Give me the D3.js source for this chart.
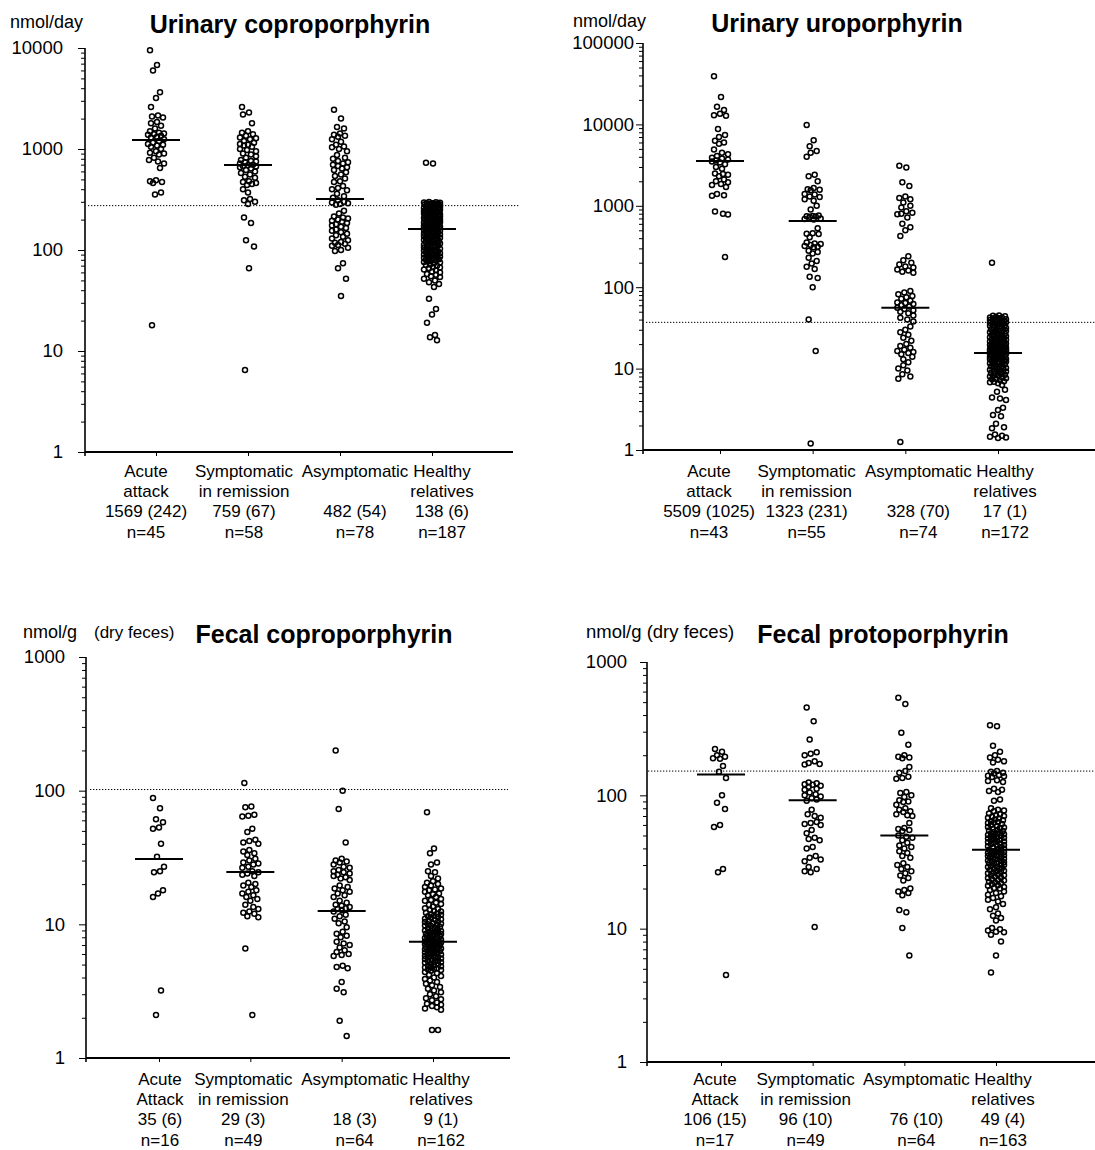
<!DOCTYPE html>
<html>
<head>
<meta charset="utf-8">
<script src="https://cdn.jsdelivr.net/npm/d3@7"></script>
<style>
  body { margin: 0; background: #fff; }
  svg { display: block; background: #fff; }
</style>
</head>
<body>
<svg id="chart" width="1095" height="1150"></svg>
<script>
// ---- Category labels ----
const urineCategories = [['Acute', 'attack'], ['Symptomatic', 'in remission'], ['Asymptomatic', ''], ['Healthy', 'relatives']];
const fecalCategories = [['Acute', 'Attack'], ['Symptomatic', 'in remission'], ['Asymptomatic', ''], ['Healthy', 'relatives']];

// ---- Urinary coproporphyrin (nmol/day) ----
const ucoproTicks = [1, 10, 100, 1000, 10000];
const ucoproStats = ['1569 (242)', '759 (67)', '482 (54)', '138 (6)'];
const ucoproN = [45, 58, 78, 187];
const ucoproMedians = [1230, 695, 320, 161];
const ucoproRef = 275;
const ucoproAcute = [9500, 6800, 6000, 3650, 3200, 2600, 2150, 2100, 2050, 1850, 1800, 1700, 1600, 1500, 1450, 1420, 1400, 1380, 1350, 1320, 1300, 1250, 1200, 1150, 1120, 1100, 1080, 1050, 1000, 950, 920, 900, 880, 820, 780, 750, 720, 650, 490, 480, 470, 460, 370, 355, 18];
const ucoproRemission = [2600, 2300, 2200, 1800, 1500, 1450, 1400, 1350, 1300, 1280, 1250, 1200, 1150, 1120, 1100, 1080, 1050, 1000, 980, 950, 900, 880, 850, 820, 780, 760, 750, 740, 720, 700, 690, 680, 670, 660, 640, 620, 600, 580, 560, 530, 520, 480, 470, 460, 450, 440, 400, 370, 320, 310, 300, 285, 210, 185, 125, 108, 66, 6.5];
const ucoproAsymptomatic = [2450, 2000, 1650, 1600, 1420, 1380, 1350, 1320, 1250, 1180, 1100, 1060, 1040, 1000, 950, 870, 820, 800, 760, 740, 720, 700, 680, 660, 640, 620, 590, 560, 540, 510, 480, 470, 430, 410, 400, 390, 360, 340, 330, 310, 300, 295, 290, 285, 280, 245, 230, 215, 210, 205, 200, 195, 190, 185, 180, 175, 170, 165, 160, 155, 150, 145, 140, 135, 130, 125, 120, 118, 115, 112, 110, 105, 100, 98, 74, 66, 52, 35];
const ucoproHealthy = [730, 720, 298, 297, 295, 293, 291, 290, 289, 288, 286, 284, 283, 281, 279, 277, 276, 274, 272, 270, 268, 267, 265, 262, 260, 258, 256, 254, 253, 250, 248, 247, 245, 243, 242, 240, 238, 236, 234, 233, 231, 230, 228, 226, 225, 223, 221, 220, 218, 216, 215, 214, 213, 211, 210, 208, 206, 205, 203, 201, 200, 198, 196, 195, 194, 191, 190, 189, 187, 186, 185, 183, 181, 180, 179, 177, 176, 175, 173, 172, 171, 170, 169, 168, 167, 166, 165, 164, 163, 162, 161, 160, 158, 157, 155, 153, 152, 150, 149, 147, 146, 144, 142, 141, 140, 138, 137, 135, 134, 132, 131, 130, 128, 127, 126, 124, 123, 121, 120, 119, 117, 116, 115, 113, 112, 111, 110, 108, 107, 106, 105, 103, 102, 101, 100, 99, 98, 97, 96, 95, 94, 93, 92, 91, 90, 89, 88, 87, 86, 85, 84, 83, 82, 81, 80, 79, 78, 77, 76, 75, 74, 72, 71, 70, 68, 67, 66, 64, 63, 61, 60, 58, 57, 55, 54, 52, 50, 48, 46, 43, 33, 26, 23, 19, 14.4, 13.7, 12.8];

// ---- Urinary uroporphyrin (nmol/day) ----
const uuroTicks = [1, 10, 100, 1000, 10000, 100000];
const uuroStats = ['5509 (1025)', '1323 (231)', '328 (70)', '17 (1)'];
const uuroN = [43, 55, 74, 172];
const uuroMedians = [3550, 650, 56, 15.5];
const uuroRef = 37;
const uuroAcute = [39000, 21700, 16500, 15000, 13500, 13000, 12800, 8800, 7400, 7000, 6300, 6000, 5800, 4900, 4500, 4300, 4100, 3900, 3800, 3700, 3600, 3500, 3400, 3250, 3000, 2850, 2500, 2450, 2400, 2300, 2100, 2000, 1950, 1850, 1800, 1700, 1400, 1350, 1330, 850, 800, 780, 235];
const uuroRemission = [9800, 6400, 5400, 4700, 4500, 4000, 2400, 2300, 2000, 1650, 1600, 1580, 1550, 1400, 1380, 1300, 1280, 1200, 1150, 1000, 900, 760, 750, 745, 740, 735, 700, 690, 680, 530, 460, 455, 450, 410, 355, 345, 340, 330, 320, 315, 310, 280, 270, 260, 230, 210, 195, 178, 167, 134, 130, 100, 40, 16.5, 1.2];
const uuroAsymptomatic = [3100, 2950, 1950, 1750, 1300, 1250, 1200, 1100, 1000, 950, 860, 820, 800, 790, 720, 600, 545, 500, 425, 240, 215, 200, 190, 180, 175, 165, 160, 155, 150, 90, 86, 82, 78, 75, 72, 68, 65, 64, 62, 60, 58, 56, 54, 52, 50, 48, 45, 42, 40, 38, 33, 30, 28, 26, 24, 22, 20, 19, 18, 17, 16.5, 16, 15.5, 15, 14, 13, 12, 11, 10, 9.5, 8.5, 8, 7.5, 1.25];
const uuroHealthy = [200, 45, 44.5, 44, 43, 42.5, 42, 41.5, 41, 40.5, 40, 39.5, 39, 38.5, 38, 37.5, 37, 36.5, 36, 35.5, 35, 34.5, 34, 33.5, 33, 32.5, 32, 31.5, 31, 30.5, 30, 29.5, 29, 28.5, 28.2, 28, 27.5, 27, 26.8, 26.5, 26, 25.5, 25.2, 25, 24.6, 24.2, 24, 23.8, 23.4, 23, 22.8, 22.6, 22.2, 21.8, 21.6, 21.4, 21, 20.7, 20.5, 20.4, 20.1, 19.8, 19.7, 19.5, 19.3, 19.2, 19, 18.9, 18.8, 18.6, 18.5, 18.4, 18.2, 18, 17.9, 17.8, 17.6, 17.4, 17.3, 17.2, 17, 16.9, 16.8, 16.7, 16.7, 16.6, 16.5, 16.4, 16.3, 16.2, 16.1, 16, 15.9, 15.8, 15.6, 15.4, 15.2, 15.1, 15, 14.8, 14.6, 14.4, 14.2, 14.1, 14, 13.9, 13.8, 13.6, 13.4, 13.2, 13.1, 13, 12.9, 12.8, 12.6, 12.4, 12.3, 12.2, 12, 11.8, 11.6, 11.5, 11.4, 11.2, 11, 10.8, 10.6, 10.5, 10.4, 10.2, 10, 9.8, 9.7, 9.6, 9.4, 9.2, 9.1, 9, 8.8, 8.7, 8.6, 8.4, 8.2, 8.1, 8, 7.8, 7.6, 7.5, 7.4, 7.2, 7, 6.9, 6.8, 6.6, 6.3, 5.5, 5.2, 4.4, 4.3, 4.1, 3.3, 3.1, 2.7, 2.6, 2.1, 1.9, 1.85, 1.55, 1.5, 1.45, 1.42, 1.4];

// ---- Fecal coproporphyrin (nmol/g dry feces) ----
const fcoproTicks = [1, 10, 100, 1000];
const fcoproStats = ['35 (6)', '29 (3)', '18 (3)', '9 (1)'];
const fcoproN = [16, 49, 64, 162];
const fcoproMedians = [30.8, 24.6, 12.6, 7.4];
const fcoproRef = 102;
const fcoproAcute = [88, 74, 61, 58, 53, 52, 40, 32, 27, 25, 24.5, 18, 17, 16, 3.2, 2.1];
const fcoproRemission = [114, 76, 75, 66, 65, 64, 52, 49, 43, 42, 41, 40, 36, 35, 34, 33, 31, 30, 29, 28.5, 28, 27, 26.5, 25, 24.5, 24, 23.5, 23, 20.5, 20, 19.5, 19, 18, 17.5, 17, 16.5, 16, 15.5, 15, 14, 13.5, 13, 12.5, 12.2, 12, 11.5, 11.3, 6.6, 2.1];
const fcoproAsymptomatic = [200, 100, 73, 41, 31, 30, 29.5, 29, 28, 27, 26.5, 25.5, 25, 24.5, 24, 23.5, 23, 22.5, 22, 21.5, 19.5, 19, 18.5, 18, 17.5, 17, 16.5, 16, 15, 14.5, 14, 13.8, 13.5, 13.2, 13, 12.8, 12.5, 11.8, 11.5, 11, 10.5, 10.2, 9.5, 8.8, 8.5, 8.2, 8, 7.4, 7.2, 7, 6.7, 6.4, 6.2, 6, 5.9, 5.8, 4.9, 4.8, 4.7, 3.7, 3.3, 3.1, 1.9, 1.46];
const fcoproHealthy = [69, 37, 34, 29, 28, 25, 24.5, 23, 22, 21, 20.5, 20, 19.5, 19, 18.5, 18.2, 18, 17.5, 17, 16.8, 16.5, 16, 15.5, 15.2, 15, 14.5, 14.2, 14, 13.6, 13.2, 13, 12.8, 12.6, 12.5, 12.2, 12, 11.9, 11.8, 11.6, 11.5, 11.4, 11.2, 11, 10.9, 10.8, 10.6, 10.5, 10.4, 10.2, 10.1, 10, 9.9, 9.8, 9.7, 9.6, 9.4, 9.3, 9.2, 9.1, 9, 8.9, 8.8, 8.75, 8.7, 8.6, 8.5, 8.45, 8.4, 8.3, 8.2, 8.15, 8.1, 8, 7.95, 7.9, 7.8, 7.7, 7.65, 7.6, 7.5, 7.45, 7.4, 7.35, 7.3, 7.25, 7.2, 7.15, 7.1, 7, 6.95, 6.9, 6.85, 6.8, 6.75, 6.7, 6.6, 6.55, 6.5, 6.45, 6.4, 6.35, 6.3, 6.2, 6.15, 6.1, 6.05, 6, 5.95, 5.9, 5.8, 5.75, 5.7, 5.65, 5.6, 5.55, 5.5, 5.4, 5.35, 5.3, 5.25, 5.2, 5.15, 5.1, 5, 4.95, 4.9, 4.85, 4.8, 4.75, 4.7, 4.65, 4.6, 4.55, 4.5, 4.4, 4.3, 4.2, 4.1, 4, 3.9, 3.8, 3.7, 3.6, 3.5, 3.4, 3.3, 3.2, 3.1, 3, 2.9, 2.8, 2.75, 2.7, 2.6, 2.55, 2.5, 2.45, 2.4, 2.35, 2.3, 1.62, 1.62];

// ---- Fecal protoporphyrin (nmol/g dry feces) ----
const fprotoTicks = [1, 10, 100, 1000];
const fprotoStats = ['106 (15)', '96 (10)', '76 (10)', '49 (4)'];
const fprotoN = [17, 49, 64, 163];
const fprotoMedians = [143, 92, 50, 39];
const fprotoRef = 152;
const fprotoAcute = [223, 212, 200, 195, 190, 188, 166, 150, 135, 100, 88, 79, 60, 58, 28, 26.5, 4.5];
const fprotoRemission = [455, 360, 262, 210, 205, 200, 180, 175, 172, 170, 125, 123, 121, 120, 118, 116, 112, 110, 105, 102, 100, 98, 95, 93, 91, 78, 72, 70, 68, 63, 62, 61, 60, 55, 52, 48, 47, 46, 41, 40, 35, 34, 33, 32, 29, 28, 27, 26.5, 10.3];
const fprotoAsymptomatic = [540, 485, 295, 240, 200, 195, 192, 190, 163, 152, 148, 138, 135, 133, 106, 104, 100, 97, 92, 90, 89, 85, 80, 78, 76, 75, 72, 71, 70, 62, 57, 56, 55, 54, 50, 49, 48, 46, 44, 42, 41, 40, 38, 37, 35, 34, 31, 30, 29, 28, 27, 26, 25, 24, 23, 20, 19.5, 19, 18.5, 17.8, 13.8, 13.3, 10.1, 6.3];
const fprotoHealthy = [335, 330, 235, 212, 200, 192, 185, 180, 176, 152, 150, 148, 146, 142, 140, 139, 137, 130, 128, 126, 112, 110, 108, 106, 93, 91, 80, 78, 77, 76, 73, 72, 71, 70, 69, 68, 67, 66, 65, 64, 63, 62.5, 62, 61, 60, 59, 58, 57.5, 57, 56, 55, 54.5, 54, 53, 52.5, 52, 51.5, 51, 50.5, 50, 49.5, 49, 48.5, 48, 47.5, 47, 46.5, 46, 45.5, 45, 44.5, 44, 43.5, 43, 42.5, 42, 41.5, 41, 40.5, 40, 39.5, 39, 38.5, 38.2, 38, 37.5, 37.2, 37, 36.5, 36.2, 36, 35.5, 35.2, 35, 34.5, 34.2, 34, 33.5, 33.2, 33, 32.5, 32.2, 32, 31.5, 31.2, 31, 30.5, 30.2, 30, 29.5, 29.2, 29, 28.5, 28.2, 28, 27.5, 27.2, 27, 26.5, 26.2, 26, 25.5, 25.2, 25, 24.5, 24.2, 24, 23.5, 23.2, 23, 22.5, 22.2, 22, 21.5, 21.2, 21, 20.5, 20.2, 20, 19.5, 19, 18.5, 18, 17.5, 17, 16.5, 16, 15.3, 14.5, 14, 13, 12.5, 12, 11.5, 10.1, 9.9, 9.7, 9.5, 9.4, 9, 8, 6.3, 4.7];

const FONT = '"Liberation Sans", Arial, Helvetica, sans-serif';

// Panel table (layout numbers are pixel positions on the page)
const panels = [
    {
        title: 'Urinary coproporphyrin', unit: [['nmol/day', 10, 18]],
        groups: [ucoproAcute, ucoproRemission, ucoproAsymptomatic, ucoproHealthy],
        medians: ucoproMedians, ref: ucoproRef, ticks: ucoproTicks,
        cats: urineCategories, stats: ucoproStats, counts: ucoproN,
        box: { left: 85, right: 513, top: 48, bottom: 452, first: 156, last: 432, refL: 88, refR: 520,
               titleX: 290, titleY: 33, unitY: 28, tickPad: 15, labelDx: [-10, -4, 15, 10], labelY: 477 }
    },
    {
        title: 'Urinary uroporphyrin', unit: [['nmol/day', 573, 18]],
        groups: [uuroAcute, uuroRemission, uuroAsymptomatic, uuroHealthy],
        medians: uuroMedians, ref: uuroRef, ticks: uuroTicks,
        cats: urineCategories, stats: uuroStats, counts: uuroN,
        box: { left: 643, right: 1095, top: 43, bottom: 450, first: 720, last: 998, refL: 646, refR: 1095,
               titleX: 837, titleY: 32, unitY: 27, tickPad: 2, labelDx: [-11, -6, 13, 7], labelY: 477 }
    },
    {
        title: 'Fecal coproporphyrin', unit: [['nmol/g', 23, 18], ['(dry feces)', 94, 17]],
        groups: [fcoproAcute, fcoproRemission, fcoproAsymptomatic, fcoproHealthy],
        medians: fcoproMedians, ref: fcoproRef, ticks: fcoproTicks,
        cats: fecalCategories, stats: fcoproStats, counts: fcoproN,
        box: { left: 86, right: 510, top: 657, bottom: 1058, first: 159, last: 433, refL: 90, refR: 508,
               titleX: 324, titleY: 643, unitY: 638, tickPad: 14, labelDx: [1, -7, 13, 8], labelY: 1085 }
    },
    {
        title: 'Fecal protoporphyrin', unit: [['nmol/g (dry feces)', 586, 18.5]],
        groups: [fprotoAcute, fprotoRemission, fprotoAsymptomatic, fprotoHealthy],
        medians: fprotoMedians, ref: fprotoRef, ticks: fprotoTicks,
        cats: fecalCategories, stats: fprotoStats, counts: fprotoN,
        box: { left: 647, right: 1095, top: 662, bottom: 1062, first: 721, last: 996, refL: 648, refR: 1095,
               titleX: 883, titleY: 643, unitY: 638, tickPad: 13, labelDx: [-6, -7, 12, 7], labelY: 1085 }
    }
];

const svg = d3.select('#chart');
panels.forEach(drawPanel);

function drawPanel(p) {
    const b = p.box;
    const g = svg.append('g');

    // Scales
    const y = d3.scaleLog().domain([1, d3.max(p.ticks)]).range([b.bottom, b.top]);
    const x = d3.scalePoint().domain(d3.range(p.groups.length)).range([b.first, b.last]);

    // Reference (upper normal) dotted line
    g.append('line')
        .attr('x1', b.refL).attr('x2', b.refR)
        .attr('y1', y(p.ref)).attr('y2', y(p.ref))
        .attr('stroke', '#000').attr('stroke-width', 1)
        .attr('stroke-dasharray', '1.3,1.7');

    // Y axis: minor ticks, then decades with labels
    const minor = [];
    p.ticks.slice(0, -1).forEach(t => d3.range(2, 10).forEach(k => minor.push(t * k)));

    g.append('g')
        .attr('transform', `translate(${b.left},0)`)
        .call(d3.axisLeft(y).tickValues(minor).tickSize(4).tickFormat(''))
        .call(s => s.select('.domain').remove());

    const yAxisG = g.append('g')
        .attr('transform', `translate(${b.left},0)`)
        .call(d3.axisLeft(y).tickValues(p.ticks).tickSize(7).tickSizeOuter(0)
            .tickPadding(b.tickPad).tickFormat(d3.format('d')));
    yAxisG.select('.domain').remove();
    yAxisG.selectAll('text')
        .attr('font-family', FONT).attr('font-size', 18.5).attr('fill', '#000');
    yAxisG.selectAll('line').attr('stroke', '#000');

    g.append('line')
        .attr('x1', b.left).attr('x2', b.left)
        .attr('y1', b.top).attr('y2', b.bottom + 4)
        .attr('stroke', '#000').attr('stroke-width', 1.6);

    // X axis
    g.append('line')
        .attr('x1', b.left).attr('x2', b.right)
        .attr('y1', b.bottom).attr('y2', b.bottom)
        .attr('stroke', '#000').attr('stroke-width', 1.8);

    const xAxisG = g.append('g')
        .attr('transform', `translate(0,${b.bottom})`)
        .call(d3.axisBottom(x).tickSize(4).tickSizeOuter(0).tickFormat(''));
    xAxisG.select('.domain').remove();
    xAxisG.selectAll('line').attr('stroke', '#000');

    // Dots (open circles, scattered around each category)
    p.groups.forEach((vals, i) => {
        const pts = scatter(vals, y, 8, 5.4);
        g.append('g').selectAll('circle')
            .data(pts)
            .join('circle')
            .attr('cx', d => x(i) + d.dx)
            .attr('cy', d => d.y)
            .attr('r', 2.5)
            .attr('fill', 'none')
            .attr('stroke', '#000')
            .attr('stroke-width', 1.5);
    });

    // Median bars
    g.append('g').selectAll('line')
        .data(p.medians)
        .join('line')
        .attr('x1', (d, i) => x(i) - 24)
        .attr('x2', (d, i) => x(i) + 24)
        .attr('y1', d => y(d)).attr('y2', d => y(d))
        .attr('stroke', '#000').attr('stroke-width', 2);

    // Category labels
    p.cats.forEach((c, i) => {
        const lines = [c[0], c[1], p.stats[i], 'n=' + p.counts[i]];
        const t = g.append('text')
            .attr('font-family', FONT).attr('font-size', 17)
            .attr('text-anchor', 'middle').attr('fill', '#000');
        lines.forEach((s, k) => {
            t.append('tspan')
                .attr('x', x(i) + b.labelDx[i])
                .attr('y', b.labelY + k * 20.2)
                .text(s);
        });
    });

    // Title and unit
    g.append('text')
        .attr('x', b.titleX).attr('y', b.titleY)
        .attr('text-anchor', 'middle')
        .attr('font-family', FONT).attr('font-size', 25).attr('font-weight', 'bold')
        .text(p.title);

    p.unit.forEach(u => {
        g.append('text')
            .attr('x', u[1]).attr('y', b.unitY)
            .attr('font-family', FONT).attr('font-size', u[2])
            .text(u[0]);
    });
}

// Deterministic scatter: each point gets a preferred sideways offset from a
// golden-ratio sequence, then slides to the nearest free slot inside the width
// (or the least crowded one when the column is full)
function scatter(values, y, maxDx, gap) {
    const items = values.map(v => ({ v, y: y(v), dx: 0 })).sort((a, b) => a.y - b.y);
    const placed = [];
    items.forEach((it, n) => {
        const pref = Math.round((((n * 0.618034) % 1) * 2 - 1) * maxDx * 0.75);
        let best = pref, bestD = -1;
        for (let k = 0; k <= maxDx * 4; k++) {
            const dx = pref + (k % 2 ? (k + 1) / 2 : -k / 2);
            if (Math.abs(dx) > maxDx) continue;
            let dmin = Infinity;
            for (const q of placed) {
                if (Math.abs(q.y - it.y) >= gap) continue;
                dmin = Math.min(dmin, Math.hypot(q.dx - dx, q.y - it.y));
            }
            if (dmin >= gap) { best = dx; bestD = dmin; break; }
            if (dmin > bestD) { bestD = dmin; best = dx; }
        }
        it.dx = best;
        placed.push(it);
    });
    return items;
}
</script>
</body>
</html>
